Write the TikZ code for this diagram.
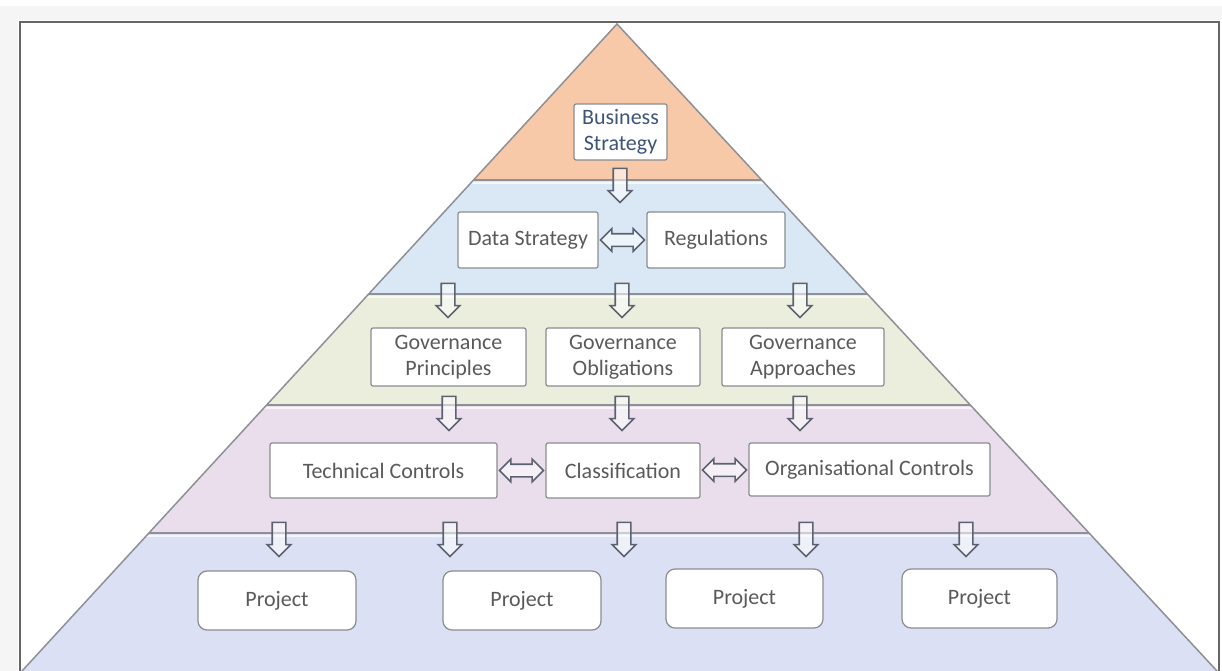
\documentclass[tikz,border=0pt]{standalone}
\usepackage{fontspec}
\setmainfont{Carlito}
\usetikzlibrary{shapes.arrows,calc}
\definecolor{bandA}{HTML}{F8C9A9}
\definecolor{bandB}{HTML}{D9E8F4}
\definecolor{bandC}{HTML}{EBEEDC}
\definecolor{bandD}{HTML}{EADEEC}
\definecolor{bandE}{HTML}{DCE0F4}
\definecolor{edgegray}{HTML}{8E9096}
\definecolor{boxline}{HTML}{8A8C90}
\definecolor{txt}{HTML}{5A5A5A}
\definecolor{bstxt}{HTML}{3E5478}
\definecolor{arrowline}{HTML}{5C6270}
\begin{document}
\begin{tikzpicture}[x=1pt,y=-1pt,
  box/.style={draw=boxline, line width=1.2pt, fill=white, rounded corners=2pt,
    inner sep=0pt, align=center, text=txt, font=\fontsize{22}{26}\selectfont},
  projbox/.style={box, rounded corners=9pt},
  dnarrow/.style={single arrow, shape border rotate=270, draw=arrowline,
    line width=1.6pt, fill=white, fill opacity=0.55, draw opacity=1,
    minimum width=22pt, minimum height=34pt, single arrow head extend=5pt,
    single arrow head indent=0pt, inner sep=6pt},
  twoway/.style={double arrow, draw=arrowline, line width=1.6pt, fill=white,
    fill opacity=0.55, draw opacity=1, minimum width=22pt,
    double arrow head extend=5pt, double arrow head indent=0pt, inner sep=5.5pt},
  bandline/.style={edgegray, line width=2pt}]

% page and frame
\useasboundingbox (0,0) rectangle (1222,671);
\fill[white] (0,0) rectangle (1222,671);
\fill[black!4] (0,6) rectangle (1222,20);
\fill[black!4] (0,6) rectangle (18,671);
\fill[white] (20,22) rectangle (1219,675);
\draw[black!60, line width=1.6pt] (20,675) -- (20,22) -- (1219,22) -- (1219,675);

% pyramid bands
\coordinate (apex) at (617,24);
\coordinate (bl) at (22,671);
\coordinate (br) at (1217,671);
\begin{scope}
  \clip (apex) -- (br) -- (bl) -- cycle;
  \fill[bandA] (0,0) rectangle (1222,180);
  \fill[bandB] (0,180) rectangle (1222,294);
  \fill[bandC] (0,294) rectangle (1222,405);
  \fill[bandD] (0,405) rectangle (1222,533);
  \fill[bandE] (0,533) rectangle (1222,671);
  \foreach \yy in {180,294,405,533} {
    \draw[white, line width=2pt, opacity=0.7] (0,\yy+3) -- (1222,\yy+3);
    \draw[bandline] (0,\yy) -- (1222,\yy);
  }
\end{scope}
\draw[edgegray, line width=1.5pt] (bl) -- (apex) -- (br);

% boxes
\node[box, minimum width=93pt, minimum height=56pt, text=bstxt] (bs) at (620.5,132) {Business\\Strategy};
\node[box, minimum width=140pt, minimum height=56pt] (ds) at (528,240) {Data Strategy};
\node[box, minimum width=138pt, minimum height=56pt] (reg) at (716,240) {Regulations};

\node[box, minimum width=155pt, minimum height=58pt] (gp) at (448.5,357) {Governance\\Principles};
\node[box, minimum width=154pt, minimum height=58pt] (go) at (623,357) {Governance\\Obligations};
\node[box, minimum width=162pt, minimum height=58pt] (ga) at (803,357) {Governance\\Approaches};

\node[box, minimum width=227pt, minimum height=55pt] (tc) at (383.5,470.5) {Technical Controls};
\node[box, minimum width=154pt, minimum height=55pt] (cl) at (623,470.5) {Classification};
\node[box, minimum width=241pt, minimum height=53pt] (oc) at (869.5,469.5) {Organisational Controls};

\node[projbox, minimum width=158pt, minimum height=59pt] (p1) at (277,600.5) {Project};
\node[projbox, minimum width=158pt, minimum height=59pt] (p2) at (522,600.5) {Project};
\node[projbox, minimum width=157pt, minimum height=59pt] (p3) at (744.5,598.5) {Project};
\node[projbox, minimum width=155pt, minimum height=59pt] (p4) at (979.5,598.5) {Project};

% two-way links
\path let \p1=(ds.east), \p2=(reg.west) in
  node[twoway, minimum height={\x2-\x1-4pt}] (l1) at ($(ds.east)!0.5!(reg.west)$) {};
\path let \p1=(tc.east), \p2=(cl.west) in
  node[twoway, minimum height={\x2-\x1-4pt}] (l2) at ($(tc.east)!0.5!(cl.west)$) {};
\path let \p1=(cl.east), \p2=(oc.west) in
  node[twoway, minimum height={\x2-\x1-4pt}] (l3) at ($(cl.east)!0.5!(oc.west)$) {};

% downward flow
\node[dnarrow] (d0) at (620,182) {};
\node[dnarrow] (d1) at (448,297) {};
\node[dnarrow] (d2) at (622,297) {};
\node[dnarrow] (d3) at (800,297) {};
\node[dnarrow] (d4) at (449,410) {};
\node[dnarrow] (d5) at (622,410) {};
\node[dnarrow] (d6) at (800,410) {};
\node[dnarrow] (d7) at (279,536) {};
\node[dnarrow] (d8) at (450,536) {};
\node[dnarrow] (d9) at (624,536) {};
\node[dnarrow] (d10) at (806,536) {};
\node[dnarrow] (d11) at (966,536) {};
\end{tikzpicture}
\end{document}
